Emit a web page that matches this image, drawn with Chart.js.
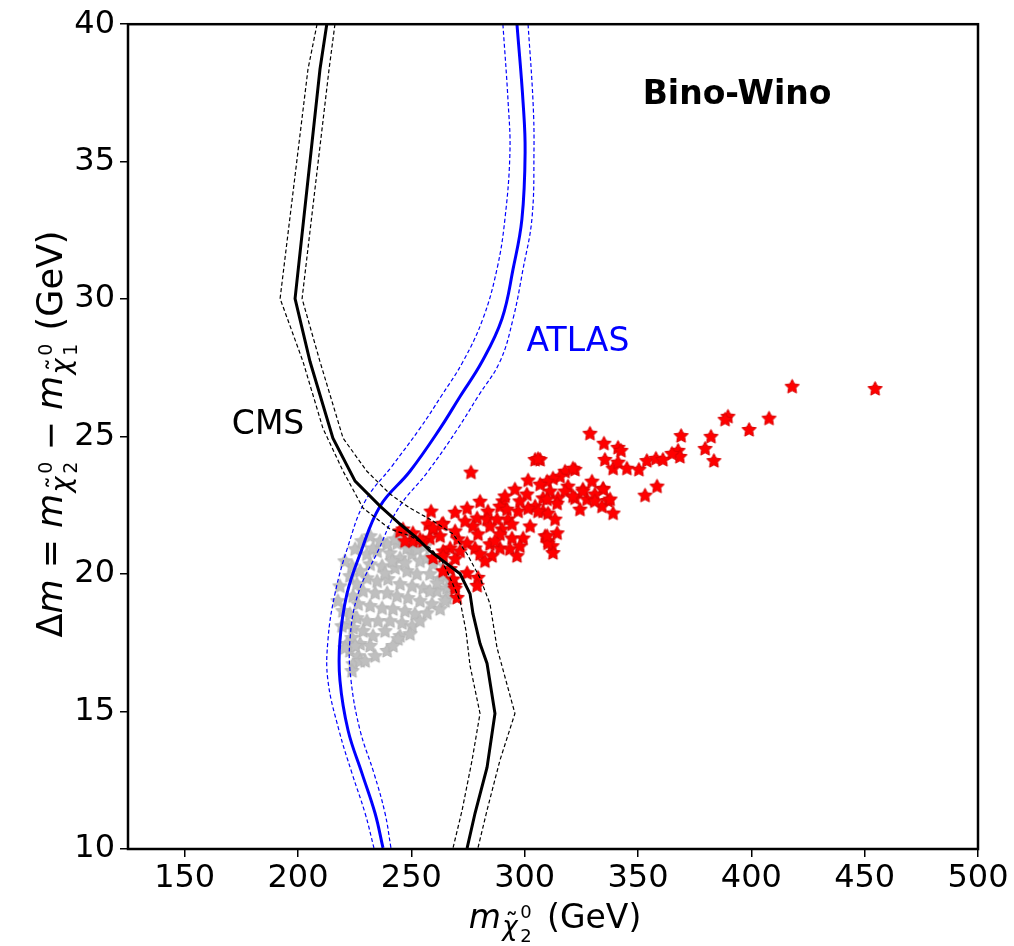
<!DOCTYPE html>
<html>
<head>
<meta charset="utf-8">
<script src="https://cdn.jsdelivr.net/npm/chart.js@4.4.1/dist/chart.umd.min.js"></script>
<style>
  html, body { margin: 0; padding: 0; background: #fff; }
  canvas { display: block; }
</style>
</head>
<body>
<canvas id="chart" width="1014" height="946"></canvas>
<script>
// axis ticks
const xTicks = [150, 200, 250, 300, 350, 400, 450, 500];
const yTicks = [10, 15, 20, 25, 30, 35, 40];

// CMS exclusion contour (solid = expected, dashed = +/- 1 sigma)
const cmsX = [212.7, 209.7, 198.7, 205.3, 215.4, 225.2, 236.2, 245.0, 252.5, 258.2, 264.0, 271.5, 275.9, 277.2, 280.3, 283.4, 286.9, 283.4, 278.1, 274.6];
const cmsY = [40.0, 38.36, 30.02, 27.73, 24.94, 23.38, 22.47, 21.82, 21.31, 20.84, 20.48, 20.01, 19.28, 18.56, 17.47, 16.75, 14.93, 12.97, 11.30, 10.03];
const cmsLowX = [208.4, 204.4, 192.1, 202.2, 211.0, 219.9, 228.7, 240.6, 249.4, 258.2, 263.5, 267.1, 271.5, 274.1, 275.9, 280.3, 276.8, 272.4, 268.4];
const cmsLowY = [40.0, 38.36, 30.02, 27.73, 25.30, 23.74, 22.40, 21.64, 21.39, 20.95, 20.48, 19.86, 19.03, 17.94, 16.67, 14.93, 13.23, 11.41, 10.04];
const cmsHighX = [216.3, 213.7, 201.8, 209.7, 219.9, 230.4, 240.6, 249.4, 259.6, 268.4, 274.6, 280.3, 284.7, 287.8, 295.7, 289.1, 283.4, 279.4];
const cmsHighY = [40.0, 38.36, 30.02, 27.73, 24.94, 23.74, 22.91, 22.40, 21.93, 21.46, 20.73, 19.86, 18.92, 17.32, 14.93, 13.23, 11.41, 10.04];

// ATLAS exclusion contour
const atlasX = [296.6, 299.3, 300.2, 298.8, 294.9, 290.0, 281.2, 271.5, 262.7, 249.4, 236.2, 227.4, 221.6, 218.5, 218.5, 222.1, 228.2, 234.0, 237.5];
const atlasY = [40.0, 37.16, 35.35, 32.92, 31.10, 29.29, 27.73, 26.46, 25.30, 23.74, 22.47, 20.73, 19.28, 17.58, 16.13, 14.31, 12.76, 11.30, 10.04];
const atlasLowX = [290.4, 292.7, 293.5, 291.3, 287.8, 281.6, 272.8, 263.1, 253.8, 241.5, 229.6, 222.1, 216.3, 213.2, 213.2, 218.1, 223.8, 229.6, 233.5];
const atlasLowY = [40.0, 37.16, 35.35, 32.92, 31.10, 29.29, 27.73, 26.46, 25.30, 23.93, 22.65, 21.02, 19.28, 17.58, 16.13, 14.31, 12.76, 11.30, 10.04];
const atlasHighX = [301.5, 303.7, 304.1, 303.2, 299.3, 294.9, 289.1, 279.4, 270.6, 257.4, 244.1, 235.3, 226.5, 222.9, 223.4, 227.4, 233.5, 238.4, 241.0];
const atlasHighY = [40.0, 37.16, 35.35, 32.92, 31.10, 29.29, 27.73, 26.46, 25.30, 23.74, 22.37, 20.84, 19.28, 17.58, 16.13, 14.31, 12.76, 11.30, 10.04];

// allowed points (red) and excluded points (grey)
const redX = [454.6, 418.0, 389.7, 388.4, 399.0, 407.8, 369.0, 382.2, 367.7, 368.5, 365.0, 379.6, 383.5, 335.0, 341.2, 342.5, 335.4, 339.0, 341.2, 345.1,
  350.4, 353.9, 357.9, 361.0, 334.6, 336.8, 353.1, 358.4, 334.1, 328.8, 306.8, 329.7, 322.2, 317.8, 315.6, 312.5, 309.9, 319.1, 311.2, 317.8,
  325.7, 334.6, 306.8, 308.1, 314.7, 322.2, 327.5, 331.0, 337.7, 314.3, 308.1, 310.3, 324.4, 339.0, 313.4, 314.3, 309.0, 310.3, 312.1, 312.5,
  304.6, 305.9, 276.3, 321.3, 301.5, 295.7, 301.0, 321.3, 290.4, 289.1, 292.2, 304.6, 305.9, 301.5, 297.1, 274.6, 269.3, 258.7, 283.8, 279.0,
  283.4, 287.8, 292.6, 264.0, 257.4, 259.6, 277.2, 284.7, 290.0, 294.4, 279.4, 289.1, 294.4, 299.3, 258.2, 250.7, 270.6, 274.6, 278.1, 284.7,
  289.1, 293.5, 296.6, 285.6, 280.3, 271.5, 267.1, 264.0, 255.1, 250.7, 246.3, 269.3, 264.0, 259.6, 267.1, 274.6, 279.4, 279.0, 269.3, 270.2,
  245.0, 247.2, 268.4, 269.3, 253.8, 259.6, 263.5, 264.0, 309.9, 325.7, 331.0, 310.3, 309.9,
  280.3, 286.9, 297.9, 302.4, 273.7, 291.3, 282.5, 269.3, 262.7, 297.9];
const redY = [26.75, 26.83, 25.74, 25.63, 25.26, 25.67, 25.04, 25.01, 24.50, 24.28, 24.39, 24.57, 24.13, 24.76, 24.61, 24.50, 24.17, 23.85, 24.07, 23.85,
  23.81, 24.13, 24.21, 24.17, 23.12, 22.68, 22.87, 23.20, 22.47, 25.12, 24.17, 23.38, 23.81, 23.74, 23.56, 23.49, 23.38, 23.20, 23.02, 23.02,
  23.09, 23.09, 23.27, 22.77, 22.77, 22.77, 22.73, 22.91, 22.73, 22.58, 22.29, 22.22, 22.36, 22.22, 22.00, 21.50, 21.39, 21.21, 21.03, 20.78,
  24.17, 24.20, 23.71, 23.85, 23.42, 23.09, 22.91, 22.84, 22.66, 22.47, 22.36, 22.47, 22.29, 22.40, 22.29, 22.40, 22.25, 22.29, 22.29, 22.04,
  22.00, 22.00, 22.00, 21.85, 21.82, 21.64, 21.75, 21.75, 21.64, 21.82, 21.46, 21.46, 21.31, 21.31, 21.31, 21.21, 21.28, 21.13, 20.95, 21.10,
  20.95, 20.92, 20.67, 20.67, 20.74, 20.84, 20.95, 20.84, 21.21, 21.50, 21.64, 20.56, 20.67, 20.60, 20.20, 20.05, 19.88, 19.59, 19.59, 19.15,
  21.57, 21.21, 19.82, 19.48, 21.28, 21.68, 21.82, 20.12, 22.73, 23.02, 22.66, 21.13, 21.39,
  22.65, 21.21, 21.02, 21.75, 21.93, 22.84, 20.48, 21.57, 21.39, 22.66];
const grayX = [234.9, 240.6, 245.0, 250.3, 253.8, 256.9, 231.8, 237.1, 242.8, 248.1, 252.5, 258.2, 262.7, 265.7, 261.3, 230.4, 234.9, 239.7, 245.0, 250.3,
  255.2, 228.7, 234.0, 239.3, 243.7, 248.5, 253.8, 259.1, 262.7, 226.5, 231.8, 237.1, 241.9, 247.2, 251.6, 256.9, 226.0, 230.4, 235.3, 240.6,
  245.9, 250.3, 224.3, 228.7, 233.1, 245.0, 249.4, 223.8, 227.4, 231.8, 239.3, 244.1, 222.9, 226.5, 224.3, 227.4, 223.8, 221.6, 222.1, 222.9,
  224.3, 226.0, 227.4, 230.4, 233.1, 239.3, 236.2, 243.7, 248.1, 252.5, 241.5, 247.2, 238.4, 259.6, 261.3, 265.7, 219.4, 220.7, 219.8, 222.9, 223.8,
  217.6, 218.5, 220.7, 225.2, 228.2, 231.8, 242.8, 249.4, 256.0, 264.9, 267.1, 264.9, 238.4, 241.9, 234.0, 229.6, 225.2, 253.8, 258.2];
const grayY = [20.84, 20.77, 20.59, 20.73, 20.48, 20.59, 20.37, 20.30, 20.23, 20.12, 20.01, 20.01, 19.83, 19.50, 19.39, 19.86, 19.75, 19.83, 19.65, 19.57,
  19.50, 19.39, 19.32, 19.32, 19.21, 19.14, 19.03, 18.92, 18.74, 18.92, 18.85, 18.77, 18.74, 18.67, 18.56, 18.59, 18.41, 18.30, 18.30, 18.30,
  18.23, 18.12, 18.05, 17.94, 17.76, 17.76, 17.83, 17.69, 17.47, 17.40, 17.22, 17.65, 17.22, 17.03, 16.74, 16.85, 16.49, 17.47, 18.19, 18.56,
  19.21, 19.65, 20.12, 20.73, 20.95, 21.10, 21.21, 21.13, 20.95, 20.91, 20.48, 20.41, 20.04, 20.37, 19.68, 19.14, 18.12, 17.32, 18.67, 19.94, 20.30,
  19.03, 19.57, 20.48, 20.92, 21.21, 21.39, 21.28, 21.21, 21.02, 20.30, 19.75, 19.03, 17.94, 17.40, 17.03, 16.85, 17.40, 18.30, 19.39];

const FONT = '"DejaVu Sans", sans-serif';

function pts(xs, ys) {
  return xs.map((x, i) => ({ x: x, y: ys[i] }));
}

function starImage(fill, edge, r) {
  const c = document.createElement('canvas');
  const s = Math.ceil(r * 2 + 4);
  c.width = s; c.height = s;
  const g = c.getContext('2d');
  g.beginPath();
  for (let i = 0; i < 10; i++) {
    const a = -Math.PI / 2 + i * Math.PI / 5;
    const rr = i % 2 ? r * 0.5 : r;
    g.lineTo(s / 2 + rr * Math.cos(a), s / 2 + rr * Math.sin(a) + r * 0.08);
  }
  g.closePath();
  g.fillStyle = fill;
  g.fill();
  g.strokeStyle = edge;
  g.lineWidth = 1;
  g.stroke();
  return c;
}

const redStar = starImage('#ff0000', '#d80000', 7.5);
const grayStar = starImage('#bfbfbf', '#b4b4b4', 7.5);

function lineSet(xs, ys, color, width, dash, tension) {
  return {
    data: pts(xs, ys),
    showLine: true,
    borderColor: color,
    borderWidth: width,
    borderDash: dash,
    pointRadius: 0,
    tension: tension,
    fill: false,
    order: 0
  };
}

// math-like label pieces: {t, size, italic, dy, tilde} | {gap} | {stack:[sup, sub]}
function pieceWidth(ctx, p, base) {
  if (p.gap) return p.gap * base;
  if (p.stack) {
    ctx.font = Math.round(base * 0.55) + 'px ' + FONT;
    return Math.max(ctx.measureText(p.stack[0]).width, ctx.measureText(p.stack[1]).width);
  }
  ctx.font = (p.italic ? 'italic ' : '') + Math.round(base * (p.size || 1)) + 'px ' + FONT;
  return ctx.measureText(p.t).width;
}

function drawMath(ctx, parts, cx, baseline, base) {
  let total = 0;
  parts.forEach(p => { total += pieceWidth(ctx, p, base); });
  let x = cx - total / 2;
  ctx.textAlign = 'left';
  ctx.textBaseline = 'alphabetic';
  ctx.fillStyle = '#000';
  parts.forEach(p => {
    const w = pieceWidth(ctx, p, base);
    if (p.stack) {
      ctx.fillText(p.stack[0], x, baseline - base * 0.3);
      ctx.fillText(p.stack[1], x, baseline + base * 0.42);
    } else if (p.t) {
      const fs = Math.round(base * (p.size || 1));
      const y = baseline + (p.dy || 0) * base;
      ctx.fillText(p.t, x, y);
      if (p.tilde) {
        ctx.font = fs + 'px ' + FONT;
        const tw = ctx.measureText('\u02DC').width;
        ctx.fillText('\u02DC', x + w / 2 - tw / 2 + 2, y - fs * 0.12);
      }
    }
    x += w;
  });
}

const chi = (n) => [
  { t: 'm', italic: true },
  { gap: 0.04 },
  { t: '\u03C7', italic: true, size: 0.78, dy: 0.22, tilde: true },
  { gap: 0.08 },
  { stack: ['0', n] }
];

const xTitle = chi('2').concat([{ gap: 0.15 }, { t: ' (GeV)' }]);
const yTitle = [{ t: '\u0394' }, { t: 'm', italic: true }, { t: ' = ' }]
  .concat(chi('2'), [{ t: ' \u2212 ' }], chi('1'), [{ gap: 0.06 }, { t: ' (GeV)' }]);

const overlay = {
  id: 'overlay',
  afterDraw(chart) {
    const ctx = chart.ctx;
    const a = chart.chartArea;
    const sx = chart.scales.x, sy = chart.scales.y;
    ctx.save();
    ctx.strokeStyle = '#000';
    ctx.lineWidth = 2.5;
    ctx.strokeRect(a.left, a.top, a.right - a.left, a.bottom - a.top);

    ctx.textAlign = 'center';
    ctx.textBaseline = 'middle';
    ctx.fillStyle = '#000';
    ctx.font = 'bold 33px ' + FONT;
    ctx.fillText('Bino-Wino', sx.getPixelForValue(393.7), sy.getPixelForValue(37.41));
    ctx.font = '33px ' + FONT;
    ctx.fillText('CMS', sx.getPixelForValue(186.8), sy.getPixelForValue(25.41));
    ctx.fillStyle = '#0000ff';
    ctx.fillText('ATLAS', sx.getPixelForValue(323.5), sy.getPixelForValue(28.42));

    drawMath(ctx, xTitle, 555, 928, 33);
    ctx.save();
    ctx.translate(62, 434);
    ctx.rotate(-Math.PI / 2);
    drawMath(ctx, yTitle, 0, 0, 35);
    ctx.restore();
    ctx.restore();
  }
};

new Chart(document.getElementById('chart'), {
  type: 'scatter',
  data: {
    datasets: [
      lineSet(cmsX, cmsY, '#000000', 3, [], 0),
      lineSet(cmsLowX, cmsLowY, '#000000', 1.2, [4, 2.5], 0),
      lineSet(cmsHighX, cmsHighY, '#000000', 1.2, [4, 2.5], 0),
      lineSet(atlasX, atlasY, '#0000ff', 3, [], 0.4),
      lineSet(atlasLowX, atlasLowY, '#0000ff', 1.2, [4, 2.5], 0.4),
      lineSet(atlasHighX, atlasHighY, '#0000ff', 1.2, [4, 2.5], 0.4),
      { data: pts(redX, redY), pointStyle: redStar, pointRadius: 8, order: 1 },
      { data: pts(grayX, grayY), pointStyle: grayStar, pointRadius: 8, order: 2 }
    ]
  },
  options: {
    responsive: false,
    devicePixelRatio: 1,
    animation: false,
    layout: { padding: { left: 0, top: 21, right: 36, bottom: 0 } },
    plugins: { legend: { display: false }, tooltip: { enabled: false } },
    scales: {
      x: {
        type: 'linear', min: 125, max: 500,
        afterBuildTicks: s => { s.ticks = xTicks.map(v => ({ value: v })); },
        afterFit: s => { s.height = 97; },
        border: { display: false },
        grid: { drawOnChartArea: false, drawTicks: true, tickLength: 8, color: '#000', lineWidth: 1.5 },
        ticks: { color: '#000', font: { family: FONT, size: 32 }, padding: 2, maxRotation: 0 }
      },
      y: {
        type: 'linear', min: 10, max: 40,
        afterBuildTicks: s => { s.ticks = yTicks.map(v => ({ value: v })); },
        afterFit: s => { s.width = 128; },
        border: { display: false },
        grid: { drawOnChartArea: false, drawTicks: true, tickLength: 8, color: '#000', lineWidth: 1.5 },
        ticks: { color: '#000', font: { family: FONT, size: 32 }, padding: 5 }
      }
    }
  },
  plugins: [overlay]
});
</script>
</body>
</html>
